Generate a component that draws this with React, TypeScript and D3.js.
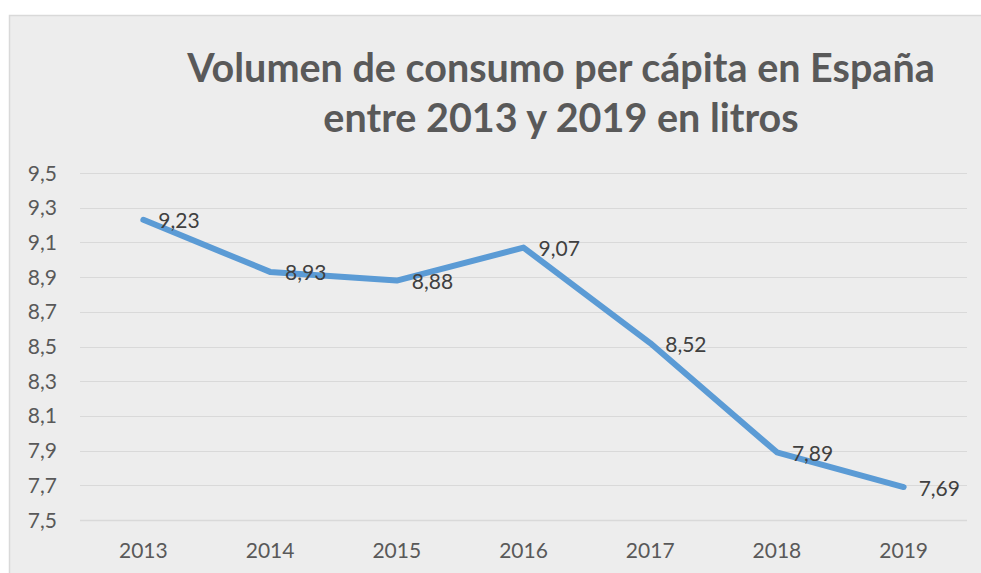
import React, { useEffect, useRef } from 'react';
import * as d3 from 'd3';

const years = ['2013', '2014', '2015', '2016', '2017', '2018', '2019'];
const volumes = [9.23, 8.93, 8.88, 9.07, 8.52, 7.89, 7.69];
const yTicks = [7.5, 7.7, 7.9, 8.1, 8.3, 8.5, 8.7, 8.9, 9.1, 9.3, 9.5];
const titleLines = ['Volumen de consumo per cápita en España', 'entre 2013 y 2019 en litros'];

const fmt = (v: number, digits: number) => v.toFixed(digits).replace('.', ',');

const App = () => {
  const ref = useRef<SVGSVGElement>(null);

  useEffect(() => {
    const svg = d3.select(ref.current);
    const width = 981;
    const height = 573;
    const marginLeft = 80;
    const marginRight = 14;
    const marginTop = 173;
    const marginBottom = 53;
    const font = "Lato, 'Open Sans', sans-serif";

    svg.selectAll('*').remove();

    // chart area background
    svg.append('rect')
      .attr('x', 9.5)
      .attr('y', 15.5)
      .attr('width', width)
      .attr('height', height)
      .attr('fill', '#ededed')
      .attr('stroke', '#d9d9d9')
      .attr('stroke-width', 1.5);

    const x = d3.scaleBand()
      .domain(years)
      .range([marginLeft, width - marginRight]);

    const y = d3.scaleLinear()
      .domain([7.5, 9.5])
      .range([height - marginBottom, marginTop]);

    // gridlines
    svg.append('g')
      .selectAll('line')
      .data(yTicks)
      .join('line')
        .attr('x1', marginLeft)
        .attr('x2', width - marginRight)
        .attr('y1', d => Math.round(y(d)) + 0.5)
        .attr('y2', d => Math.round(y(d)) + 0.5)
        .attr('stroke', '#d9d9d9')
        .attr('stroke-width', d => d === 7.5 ? 1.6 : 1.2);

    // y axis labels
    svg.append('g')
      .selectAll('text')
      .data(yTicks)
      .join('text')
        .attr('x', 57)
        .attr('y', d => y(d))
        .attr('dy', '0.36em')
        .attr('text-anchor', 'end')
        .attr('fill', '#595959')
        .attr('font-family', font)
        .attr('font-size', 21)
        .text(d => fmt(d, 1));

    // x axis labels
    svg.append('g')
      .selectAll('text')
      .data(years)
      .join('text')
        .attr('x', d => x(d)! + x.bandwidth() / 2)
        .attr('y', 558)
        .attr('text-anchor', 'middle')
        .attr('fill', '#595959')
        .attr('font-family', font)
        .attr('font-size', 21)
        .text(d => d);

    const line = d3.line<number>()
      .x((_, i) => x(years[i])! + x.bandwidth() / 2)
      .y(d => y(d));

    svg.append('path')
      .datum(volumes)
      .attr('d', line)
      .attr('fill', 'none')
      .attr('stroke', '#5b9bd5')
      .attr('stroke-width', 6)
      .attr('stroke-linejoin', 'round')
      .attr('stroke-linecap', 'round');

    // data labels
    svg.append('g')
      .selectAll('text')
      .data(volumes)
      .join('text')
        .attr('x', (_, i) => x(years[i])! + x.bandwidth() / 2 + 15)
        .attr('y', d => y(d) + 1)
        .attr('dy', '0.36em')
        .attr('fill', '#404040')
        .attr('font-family', font)
        .attr('font-size', 21)
        .text(d => fmt(d, 2));

    // title
    svg.append('g')
      .selectAll('text')
      .data(titleLines)
      .join('text')
        .attr('x', 561)
        .attr('y', (_, i) => 82 + i * 50)
        .attr('text-anchor', 'middle')
        .attr('fill', '#595959')
        .attr('font-family', font)
        .attr('font-weight', 'bold')
        .attr('font-size', 39.5)
        .text(d => d);
  }, []);

  return (
    <svg ref={ref} width={981} height={573}
      style={{ position: 'absolute', left: 0, top: 0, background: '#fff' }} />
  );
};

export default App;
